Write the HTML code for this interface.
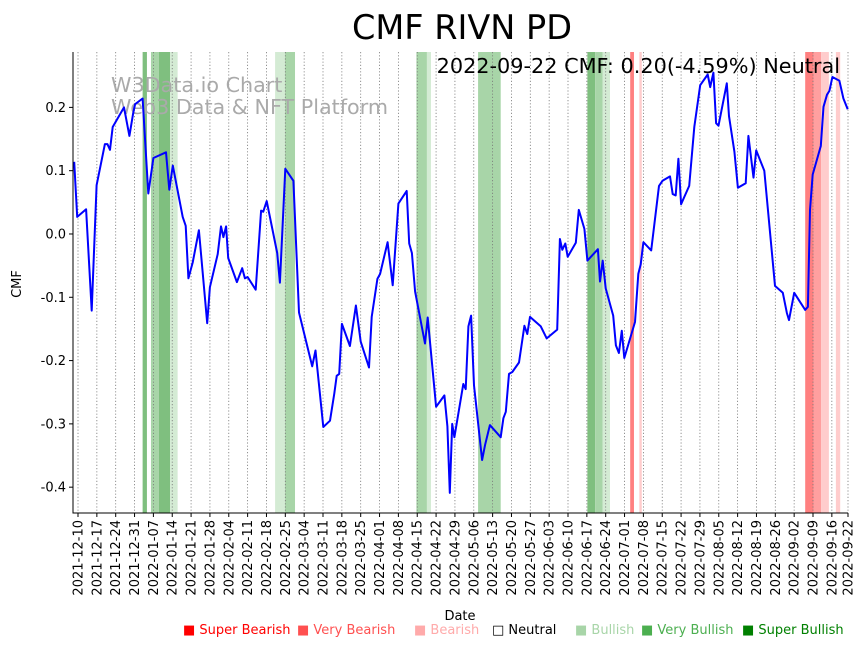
<!DOCTYPE html>
<html><head><meta charset="utf-8">
<style>
html,body{margin:0;padding:0;background:#fff;}
svg{display:block;font-family:"DejaVu Sans","Liberation Sans",sans-serif;}
</style></head>
<body>
<svg id="chart" width="867" height="646" viewBox="0 0 867 646" xmlns="http://www.w3.org/2000/svg">
<text x="462" y="39" font-size="33.5" text-anchor="middle" fill="#000">CMF RIVN PD</text>
<g id="bands"></g>
<g id="grid"></g>
<g id="watermark">
<text x="111" y="92" font-size="20.7" fill="#aaa">W3Data.io Chart</text>
<text x="111" y="114" font-size="20.7" fill="#aaa">Web3 Data &amp; NFT Platform</text>
</g>
<g id="series"></g>
<g id="axes"></g>
<text x="840" y="73" font-size="20.8" text-anchor="end" fill="#000">2022-09-22 CMF: 0.20(-4.59%) Neutral</text>
<text transform="translate(21,284) rotate(-90)" font-size="13" text-anchor="middle">CMF</text>
<text x="460" y="620" font-size="13" text-anchor="middle">Date</text>
<g font-size="13">
<text x="183" y="634" fill="#ff0000">■ Super Bearish</text>
<text x="297" y="634" fill="#ff5050">■ Very Bearish</text>
<text x="414" y="634" fill="#ffaaaa">■ Bearish</text>
<text x="492" y="634" fill="#000">□ Neutral</text>
<text x="575" y="634" fill="#a8d5a8">■ Bullish</text>
<text x="641" y="634" fill="#4caf50">■ Very Bullish</text>
<text x="742" y="634" fill="#008000">■ Super Bullish</text>
</g>
</svg>
<script>
// day offsets from 2021-12-10
const days = [-1.4,-0.3,3,5.1,6.9,10,10.9,11.9,12.9,17.1,19.1,20.5,21.2,24,26.1,28,32.7,33.9,35.2,38.9,40,41,42.6,44.9,48,49,51.9,53.1,54,55,55.8,59,61,62,63,66,68,68.8,70.1,74,75,77,80,82.1,87,88.2,91.1,93.6,95.2,96.1,97,98,101,103.2,105,108.1,109.1,111.2,112.2,115,116.9,119,122.1,123,124,125.2,128.9,129.9,133,136.1,137.2,138.1,139,139.8,143.1,144,145,146,147.1,150.1,151.2,153,157,158,158.9,160.1,161.3,163.8,165.8,166.9,167.9,171.9,174.1,178,179,179.9,181,181.9,184.9,186,188.1,189.2,193.1,193.9,194.9,196,198.8,199.8,200.9,202,202.9,206.9,208.1,209,210,212.9,215.8,217.1,219.9,220.9,222,223,224,227,228.9,231.1,233.9,234.8,236,237,237.9,241,241.8,243.8,245.1,248,249,250.9,251.9,254.9,258.9,261.8,263.3,264.1,266,270.1,271.1,271.9,272.9,275.9,276.9,278.2,279.1,280.2,282.8,284.3,285.9];
const cmf = [0.114,0.027,0.039,-0.121,0.077,0.142,0.142,0.133,0.169,0.200,0.155,0.191,0.205,0.214,0.064,0.120,0.129,0.070,0.108,0.027,0.013,-0.070,-0.045,0.006,-0.141,-0.084,-0.032,0.012,-0.005,0.012,-0.038,-0.076,-0.054,-0.070,-0.068,-0.088,0.037,0.035,0.052,-0.030,-0.077,0.103,0.084,-0.124,-0.209,-0.184,-0.305,-0.295,-0.252,-0.224,-0.221,-0.142,-0.177,-0.113,-0.170,-0.211,-0.131,-0.071,-0.063,-0.013,-0.081,0.048,0.068,-0.015,-0.030,-0.091,-0.173,-0.132,-0.273,-0.255,-0.304,-0.409,-0.300,-0.321,-0.237,-0.245,-0.146,-0.129,-0.239,-0.357,-0.333,-0.302,-0.321,-0.291,-0.281,-0.221,-0.218,-0.203,-0.145,-0.158,-0.131,-0.146,-0.165,-0.151,-0.008,-0.025,-0.015,-0.036,-0.014,0.038,0.008,-0.042,-0.024,-0.075,-0.042,-0.086,-0.129,-0.176,-0.188,-0.153,-0.196,-0.139,-0.063,-0.048,-0.013,-0.026,0.076,0.084,0.091,0.063,0.061,0.119,0.047,0.076,0.169,0.235,0.252,0.232,0.255,0.175,0.171,0.238,0.186,0.130,0.073,0.080,0.155,0.089,0.132,0.100,-0.082,-0.093,-0.125,-0.136,-0.093,-0.120,-0.115,0.038,0.094,0.139,0.201,0.220,0.226,0.248,0.242,0.214,0.197];
const bandStart = [24,27.1,30,34.2,73.2,76.9,125.7,129.6,148.6,189.2,192.1,194.9,205.1,208.5,270.1,273.2,276,281.5];
const bandEnd   = [25.6,30,34.2,37,76.9,80.6,129.6,131.1,157,192.1,194.9,197.6,206.5,209.4,273.2,276,278.9,283.1];
const bandLevel = ['g2','g1','g2','g0','g0','g1','g1','g0','g1','g2','g1','g0','r2','r0','r2','r1','r0','r0'];
const tickLabels = ['2021-12-10','2021-12-17','2021-12-24','2021-12-31','2022-01-07','2022-01-14','2022-01-21','2022-01-28','2022-02-04','2022-02-11','2022-02-18','2022-02-25','2022-03-04','2022-03-11','2022-03-18','2022-03-25','2022-04-01','2022-04-08','2022-04-15','2022-04-22','2022-04-29','2022-05-06','2022-05-13','2022-05-20','2022-05-27','2022-06-03','2022-06-10','2022-06-17','2022-06-24','2022-07-01','2022-07-08','2022-07-15','2022-07-22','2022-07-29','2022-08-05','2022-08-12','2022-08-19','2022-08-26','2022-09-02','2022-09-09','2022-09-16','2022-09-22'];
const tickDays = [0,7,14,21,28,35,42,49,56,63,70,77,84,91,98,105,112,119,126,133,140,147,154,161,168,175,182,189,196,203,210,217,224,231,238,245,252,259,266,273,280,286];
const yTicks = [0.2,0.1,0.0,-0.1,-0.2,-0.3,-0.4];

const NS='http://www.w3.org/2000/svg';
const L=73,R=848,T=52,B=513;
const dMin=-1.86,dMax=286, vMin=-0.4408,vMax=0.2875;
const xs=d=>L+(d-dMin)/(dMax-dMin)*(R-L);
const ys=v=>B-(v-vMin)/(vMax-vMin)*(B-T);
const colors={g0:'#d4ebd4',g1:'#a8d5a8',g2:'#7fbf7f',r0:'#ffcccc',r1:'#ff9f9f',r2:'#ff8080'};
function mk(tag,attrs,parent){const e=document.createElementNS(NS,tag);for(const k in attrs)e.setAttribute(k,attrs[k]);parent.appendChild(e);return e;}

const bandsG=document.getElementById('bands');
for(let i=0;i<bandStart.length;i++){
  const r=mk('rect',{x:xs(bandStart[i]),y:T,width:Math.max(1,xs(bandEnd[i])-xs(bandStart[i])),height:B-T,fill:colors[bandLevel[i]]},bandsG);
  
  
}
const gridG=document.getElementById('grid');
const axesG=document.getElementById('axes');
for(let i=0;i<tickDays.length;i++){
  const x=xs(tickDays[i]);
  const g=mk('line',{x1:x,x2:x,y1:T,y2:B,stroke:'#777','stroke-width':0.8,'stroke-dasharray':'1.2,2'},gridG);
  
  
  const t=mk('line',{x1:x,x2:x,y1:B,y2:B+4,stroke:'#000','stroke-width':1},axesG);
  
  
  const lb=mk('text',{transform:'translate('+(x+4.5)+','+(B+7)+') rotate(-90)','font-size':13,'text-anchor':'end'},axesG);
  lb.textContent=tickLabels[i];
  
  
}
for(const v of yTicks){
  const y=ys(v);
  const t=mk('line',{x1:L-4,x2:L,y1:y,y2:y,stroke:'#000','stroke-width':1},axesG);
  
  
  const lb=mk('text',{x:L-7,y:y+4.5,'font-size':13,'text-anchor':'end'},axesG);
  lb.textContent=v.toFixed(1);
  
  
}
const ax=mk('path',{d:'M'+L+','+T+'V'+B+'H'+R,fill:'none',stroke:'#000','stroke-width':1},axesG);



const pts=days.map((d,i)=>xs(d).toFixed(1)+','+ys(cmf[i]).toFixed(1)).join(' ');
const line=mk('polyline',{points:pts,fill:'none',stroke:'#0000ff','stroke-width':2,'stroke-linejoin':'round'},document.getElementById('series'));


</script>
</body></html>
